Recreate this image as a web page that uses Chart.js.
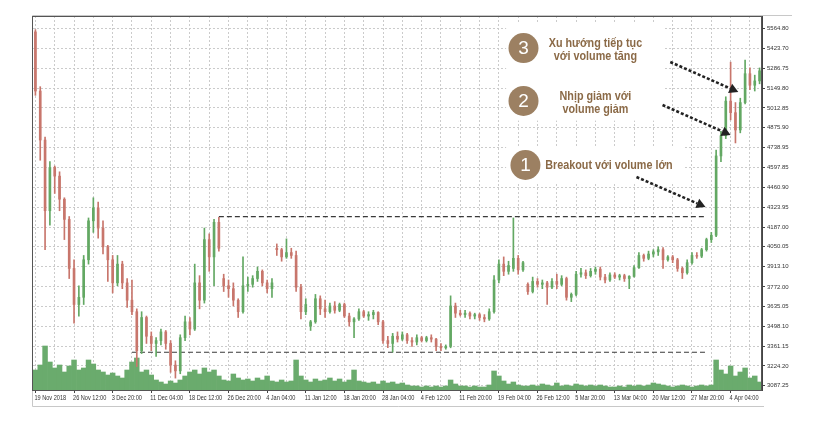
<!DOCTYPE html>
<html>
<head>
<meta charset="utf-8">
<script src="https://cdn.jsdelivr.net/npm/chart.js@4.4.1/dist/chart.umd.min.js"></script>
<style>
  html, body { margin: 0; padding: 0; background: #fff; }
</style>
</head>
<body>
<canvas id="chart" width="824" height="436"></canvas>
<script>
// OHLC, one candle per ~day
const opens = [5540,5130,4790,4300,4600,4540,4380,4240,3900,3650, 3700,3960,4230,4320,4180,4050,3960,3800,3930,3800,
  3680,3600,3330,3560,3430,3380,3400,3460,3380,3230, 3190,3420,3530,3480,3800,3680,4100,3980,4220,3830,
  3780,3760,3680,3600,3780,3790,3830,3880,3800,3760, 4040,4030,3980,4010,3990,3770,3600,3500,3530,3690,
  3620,3600,3640,3610,3650,3570,3530,3550,3600,3570, 3580,3595,3530,3400,3380,3430,3410,3440,3400,3390,
  3420,3400,3420,3410,3360,3350,3360,3640,3590,3580, 3590,3570,3580,3560,3550,3600,3820,3930,3880,3900,
  3970,3890,3790,3740,3810,3790,3800,3770,3810,3790, 3830,3700,3720,3860,3870,3850,3880,3895,3840,3820,
  3855,3840,3850,3830,3845,3905,3990,3970,4000,4015, 4030,3960,3980,3960,3900,3870,3940,3990,3985,4030,
  4100,4130,4680,4820,5060,4980,4860,5050,5250,5170, 5200];
const highs = [5555,5160,4810,4640,4610,4570,4390,4260,3960,3780, 3990,4250,4390,4360,4230,4060,3990,3990,3950,3830,
  3820,3620,3600,3570,3460,3420,3480,3470,3400,3260, 3440,3570,3560,3930,3850,4180,4140,4240,4255,3860,
  3820,3800,3690,3980,3840,3850,3910,3890,3820,3830, 4070,4040,4105,4040,4020,3790,3690,3540,3720,3710,
  3680,3660,3670,3660,3660,3590,3560,3620,3610,3600, 3610,3600,3540,3430,3450,3460,3460,3450,3420,3440,
  3430,3430,3440,3415,3380,3370,3710,3660,3610,3610, 3600,3590,3590,3580,3620,3850,3960,3980,3950,4250,
  3990,3950,3800,3840,3830,3820,3810,3830,3860,3850, 3840,3730,3880,3900,3890,3900,3910,3910,3860,3870,
  3870,3860,3860,3850,3920,4010,4000,4020,4030,4050, 4045,3990,3990,3970,3910,3960,4010,4010,4040,4110,
  4150,4720,4850,5090,5330,5050,5080,5345,5290,5240, 5290];
const lows = [5100,4650,4030,4200,4420,4300,4100,3830,3520,3570, 3650,3930,4150,4110,4000,3810,3730,3780,3760,3630,
  3580,3220,3310,3380,3330,3290,3370,3340,3180,3140, 3170,3400,3440,3470,3620,3660,3880,3780,4020,3740,
  3700,3640,3560,3590,3740,3770,3810,3780,3730,3700, 3990,3950,3970,3970,3740,3550,3580,3470,3520,3580,
  3560,3590,3590,3600,3560,3500,3420,3540,3560,3540, 3550,3510,3380,3350,3320,3390,3400,3380,3360,3370,
  3390,3390,3390,3330,3330,3340,3350,3560,3570,3560, 3550,3550,3540,3530,3540,3590,3800,3850,3860,3880,
  3860,3880,3720,3730,3770,3760,3650,3760,3760,3780, 3680,3670,3710,3840,3830,3840,3860,3820,3800,3810,
  3830,3820,3810,3760,3840,3900,3950,3960,3980,3990, 3900,3950,3940,3880,3830,3860,3930,3970,3975,4020,
  4080,4120,4640,4800,4930,4770,4840,5040,5140,5130, 5180];
const closes = [5130,4790,4300,4600,4540,4380,4240,3900,3650,3700, 3960,4230,4320,4180,4050,3960,3800,3930,3800,3680,
  3600,3330,3560,3430,3380,3400,3460,3380,3230,3190, 3420,3530,3480,3800,3680,4100,3980,4220,4040,3780,
  3760,3680,3600,3780,3790,3830,3880,3800,3760,3800, 4030,3980,4010,3990,3770,3600,3650,3530,3690,3620,
  3600,3640,3610,3650,3570,3530,3550,3600,3570,3580, 3595,3530,3400,3380,3430,3410,3440,3400,3390,3420,
  3400,3420,3410,3360,3350,3360,3640,3590,3580,3590, 3570,3580,3560,3550,3600,3820,3930,3880,3920,3970,
  3890,3940,3740,3810,3790,3800,3770,3810,3790,3830, 3700,3720,3860,3870,3850,3880,3895,3840,3820,3855,
  3840,3850,3830,3845,3905,3990,3970,4000,4015,4030, 3960,3980,3960,3900,3870,3940,3990,3985,4030,4100,
  4130,4680,4820,5060,4980,4860,5050,5250,5170,5200, 5270];
const volumes = [20,25,44,28,22,25,18,24,30,20, 22,30,26,20,18,15,17,14,12,20,
  28,32,18,20,15,10,8,6,9,7, 10,14,18,20,16,22,18,20,14,10,
  9,16,12,10,11,9,12,10,14,9, 8,10,8,9,30,14,10,8,11,9,
  10,12,9,11,8,10,20,9,8,7, 8,6,9,7,8,6,7,5,4,4,
  3,4,3,4,3,4,10,6,4,4, 3,4,3,3,5,19,14,9,6,8,
  5,4,4,5,4,6,5,4,7,4, 5,4,6,5,4,5,4,5,4,3,
  3,4,3,5,4,5,4,5,7,6, 5,4,3,4,5,4,3,4,5,4,
  5,30,20,16,24,14,18,22,12,14, 8];

// one date label every 8 candles
const dateLabels = ['19 Nov 2018','26 Nov 12:00','3 Dec 20:00','11 Dec 04:00','18 Dec 12:00','26 Dec 20:00',
  '4 Jan 04:00','11 Jan 12:00','18 Jan 20:00','28 Jan 04:00','4 Feb 12:00','11 Feb 20:00','19 Feb 04:00',
  '26 Feb 12:00','5 Mar 20:00','13 Mar 04:00','20 Mar 12:00','27 Mar 20:00','4 Apr 04:00'];
const priceTicks = [5564.80,5423.70,5286.75,5149.80,5012.85,4875.90,4738.95,4597.85,4460.90,4323.95,
  4187.00,4050.05,3913.10,3772.00,3635.05,3498.10,3361.15,3224.20,3087.25];

// dashed levels: [first candle, last candle, price]
const resistance = [38, 139, 4259];
const support = [20, 139, 3319];

const UP = '#63a863', DOWN = '#c8766c', VOL = '#6aab6d';
const BROWN = '#9c8062', TEXT_BROWN = '#8b6a47';

const labels = opens.map((_, i) => i % 8 === 0 ? dateLabels[i / 8] : '');
const candleColors = opens.map((o, i) => closes[i] >= o ? UP : DOWN);
const levelData = lvl => labels.map((_, i) => (i === lvl[0] || i === lvl[1]) ? lvl[2] : null);

// annotations anchored in data space: [candle index, price]
const notes = [
  { num: '3', circle: [101.1, 5428], text: ['Xu hướng tiếp tục', 'với volume tăng'], at: [116, 5418], align: 'center' },
  { num: '2', circle: [101.1, 5061], text: ['Nhịp giảm với', 'volume giảm'], at: [116, 5044], align: 'center' },
  { num: '1', circle: [101.5, 4617], text: ['Breakout với volume lớn'], at: [105.6, 4612], align: 'left' }
];
const arrows = [
  [[131.5, 5331], [145.6, 5123]],
  [[129.9, 5033], [144.0, 4825]],
  [[124.5, 4534], [138.8, 4326]]
];
const noteBoxes = [
  [[97.5, 5600], [130.2, 4925]],
  [[97.5, 4745], [134.5, 4490]]
];

const frame = {
  id: 'frame',
  beforeDatasetsDraw(chart) {
    const { ctx, scales: { x, y } } = chart;
    ctx.save();
    ctx.fillStyle = '#fff';
    noteBoxes.forEach(([a, b]) => {
      const x0 = x.getPixelForValue(a[0]), y0 = y.getPixelForValue(a[1]);
      const x1 = x.getPixelForValue(b[0]), y1 = y.getPixelForValue(b[1]);
      ctx.fillRect(x0, y0, x1 - x0, y1 - y0);
    });
    ctx.restore();
  },
  afterDraw(chart) {
    const { ctx, chartArea: a, scales: { x, y } } = chart;
    ctx.save();
    // outer frame + plot box
    ctx.strokeStyle = '#c8c8c8';
    ctx.lineWidth = 1;
    ctx.beginPath();
    ctx.moveTo(a.left - 0.5, 15.5); ctx.lineTo(792, 15.5);
    ctx.moveTo(a.left - 0.5, 15.5); ctx.lineTo(a.left - 0.5, 406.5); ctx.lineTo(764, 406.5);
    ctx.stroke();
    ctx.strokeStyle = '#555';
    ctx.strokeRect(a.left - 0.5, a.top + 0.5, a.right - a.left, a.bottom - a.top);

    // x labels, drawn narrow like the terminal font
    ctx.fillStyle = '#333';
    ctx.font = '7px "Liberation Sans", Arial, sans-serif';
    ctx.textAlign = 'left'; ctx.textBaseline = 'middle';
    dateLabels.forEach((t, k) => {
      ctx.save();
      ctx.translate(x.getPixelForValue(k * 8) - 1, a.bottom + 8);
      ctx.scale(0.8, 1);
      ctx.fillText(t, 0, 0);
      ctx.restore();
    });

    // arrows
    arrows.forEach(([s, e]) => {
      const x0 = x.getPixelForValue(s[0]), y0 = y.getPixelForValue(s[1]);
      const x1 = x.getPixelForValue(e[0]), y1 = y.getPixelForValue(e[1]);
      const ang = Math.atan2(y1 - y0, x1 - x0);
      const hx = x1 - Math.cos(ang) * 9, hy = y1 - Math.sin(ang) * 9;
      ctx.strokeStyle = '#222';
      ctx.lineWidth = 2.6;
      ctx.setLineDash([3, 2]);
      ctx.beginPath(); ctx.moveTo(x0, y0); ctx.lineTo(hx, hy); ctx.stroke();
      ctx.setLineDash([]);
      ctx.fillStyle = '#222';
      ctx.beginPath();
      ctx.moveTo(x1, y1);
      ctx.lineTo(hx + Math.sin(ang) * 5, hy - Math.cos(ang) * 5);
      ctx.lineTo(hx - Math.sin(ang) * 5, hy + Math.cos(ang) * 5);
      ctx.closePath(); ctx.fill();
    });

    // numbered circles and captions
    notes.forEach(n => {
      const cx = x.getPixelForValue(n.circle[0]), cy = y.getPixelForValue(n.circle[1]);
      ctx.fillStyle = BROWN;
      ctx.beginPath(); ctx.arc(cx, cy, 15, 0, Math.PI * 2); ctx.fill();
      ctx.fillStyle = '#fff';
      ctx.font = '19px "Liberation Sans", Arial, sans-serif';
      ctx.textAlign = 'center'; ctx.textBaseline = 'middle';
      ctx.fillText(n.num, cx, cy + 1);

      const tx = x.getPixelForValue(n.at[0]), ty = y.getPixelForValue(n.at[1]);
      ctx.fillStyle = TEXT_BROWN;
      ctx.font = 'bold 13px "Liberation Sans", Arial, sans-serif';
      ctx.textAlign = n.align;
      const lh = 13;
      n.text.forEach((t, k) => {
        const ly = ty + (k - (n.text.length - 1) / 2) * lh;
        ctx.save();
        ctx.translate(tx, ly);
        ctx.scale(0.83, 1);
        ctx.fillText(t, 0, 0);
        ctx.restore();
      });
    });
    ctx.restore();
  }
};

const gridColor = '#cbcbcb';
const tickFont = { family: '"Liberation Sans", Arial', size: 6 };

new Chart(document.getElementById('chart'), {
  type: 'bar',
  data: {
    labels: labels,
    datasets: [
      { label: 'body', data: opens.map((o, i) => [o, closes[i]]), backgroundColor: candleColors,
        barThickness: 2, grouped: false, order: 0, yAxisID: 'y' },
      { label: 'wick', data: lows.map((l, i) => [l, highs[i]]), backgroundColor: candleColors,
        barThickness: 1, grouped: false, order: 1, yAxisID: 'y' },
      { type: 'line', label: 'resistance', data: levelData(resistance), spanGaps: true, borderColor: '#3a3a3a',
        borderWidth: 1.2, borderDash: [5, 3], pointRadius: 0, order: 2, yAxisID: 'y' },
      { type: 'line', label: 'support', data: levelData(support), spanGaps: true, borderColor: '#3a3a3a',
        borderWidth: 1.2, borderDash: [5, 3], pointRadius: 0, order: 2, yAxisID: 'y' },
      { label: 'volume', data: volumes, backgroundColor: VOL, barPercentage: 1, categoryPercentage: 1,
        grouped: false, order: 3, yAxisID: 'yv' }
    ]
  },
  options: {
    responsive: false,
    animation: false,
    devicePixelRatio: 1,
    layout: { padding: { left: 33, top: 16, right: 0, bottom: 0 } },
    plugins: { legend: { display: false }, tooltip: { enabled: false } },
    scales: {
      x: {
        offset: true,
        grid: {
          offset: false,
          color: c => c.index % 4 === 0 ? gridColor : 'rgba(0,0,0,0)',
          tickColor: c => c.index % 8 === 0 ? '#444' : 'rgba(0,0,0,0)',
          tickLength: 3
        },
        border: { color: '#444', dash: [2, 2] },
        ticks: { autoSkip: false, maxRotation: 0, callback: () => '' },
        afterFit: s => { s.height = 46; }
      },
      y: {
        position: 'right',
        min: 3057.4,
        max: 5650,
        afterBuildTicks: s => { s.ticks = priceTicks.map(v => ({ value: v })); },
        grid: { color: gridColor, tickColor: '#444', tickLength: 3 },
        border: { color: '#444', dash: [2, 2] },
        ticks: { color: '#333', font: tickFont, padding: 2, callback: v => v.toFixed(2) },
        afterFit: s => { s.width = 62; }
      },
      yv: { display: false, min: 0, max: 374 }
    }
  },
  plugins: [frame]
});
</script>
</body>
</html>
